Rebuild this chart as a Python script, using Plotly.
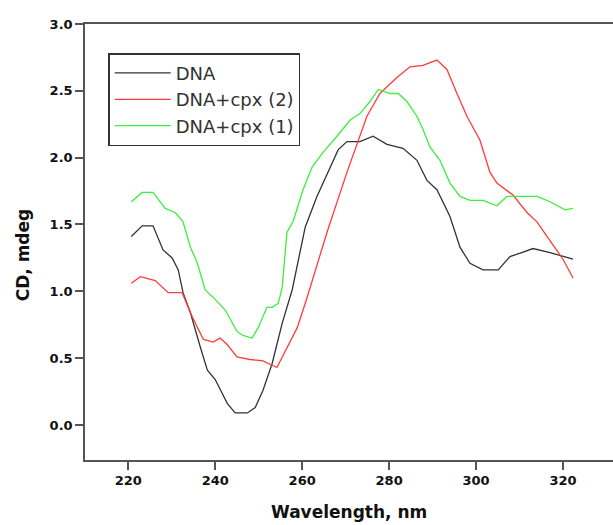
import plotly.graph_objects as go

# Wavelength (nm) and CD (mdeg)
dna_x = [220.7, 223.2, 225.7, 228.0, 230.1, 231.5, 232.6, 234.3, 236.6, 238.2, 240.0, 242.8,
         244.6, 247.4, 249.2, 251.0, 253.1, 255.4, 257.7, 260.7, 263.4, 266.0, 268.3, 270.3,
         273.3, 276.3, 279.5, 283.2, 286.4, 288.7, 291.0, 294.0, 296.3, 298.6, 301.6, 305.1,
         307.8, 310.5, 313.1, 317.0, 319.3, 322.3]
dna_y = [1.41, 1.49, 1.49, 1.31, 1.25, 1.16, 0.99, 0.84, 0.58, 0.41, 0.34, 0.16,
         0.09, 0.09, 0.13, 0.26, 0.46, 0.76, 1.01, 1.48, 1.71, 1.89, 2.06, 2.12,
         2.12, 2.16, 2.10, 2.07, 1.98, 1.83, 1.76, 1.56, 1.33, 1.21, 1.16, 1.16,
         1.26, 1.29, 1.32, 1.29, 1.27, 1.24]

cpx2_x = [220.7, 222.8, 226.2, 229.2, 232.4, 234.3, 235.9, 237.3, 239.5, 241.1, 242.8, 245.0,
          248.0, 251.0, 254.2, 256.5, 258.9, 261.1, 265.7, 270.3, 273.3, 274.9, 277.9, 281.8,
          284.8, 287.8, 291.0, 293.3, 295.6, 297.9, 300.9, 303.2, 304.8, 308.5, 311.7, 314.0,
          317.0, 320.0, 322.3]
cpx2_y = [1.06, 1.11, 1.08, 0.99, 0.99, 0.84, 0.73, 0.64, 0.62, 0.65, 0.60, 0.51,
          0.49, 0.48, 0.43, 0.58, 0.73, 0.95, 1.44, 1.89, 2.16, 2.31, 2.48, 2.60,
          2.68, 2.69, 2.73, 2.66, 2.48, 2.31, 2.13, 1.89, 1.81, 1.72, 1.59, 1.52,
          1.38, 1.24, 1.10]

cpx1_x = [220.7, 223.2, 225.7, 228.5, 230.8, 232.6, 234.3, 235.9, 237.7, 240.0, 242.3, 245.0,
          246.4, 248.5, 249.9, 251.9, 253.1, 254.5, 255.4, 256.5, 258.0, 260.2, 262.3, 264.8,
          268.0, 271.0, 273.3, 275.6, 277.5, 280.2, 282.1, 284.1, 286.4, 287.8, 289.4, 291.7,
          294.0, 296.3, 298.6, 301.6, 304.8, 307.1, 309.4, 314.0, 317.0, 320.5, 322.3]
cpx1_y = [1.67, 1.74, 1.74, 1.62, 1.59, 1.52, 1.33, 1.21, 1.01, 0.94, 0.86, 0.70,
          0.67, 0.65, 0.73, 0.88, 0.88, 0.91, 1.03, 1.44, 1.53, 1.76, 1.93, 2.04,
          2.16, 2.28, 2.33, 2.42, 2.51, 2.48, 2.48, 2.42, 2.31, 2.21, 2.08, 1.98,
          1.81, 1.71, 1.68, 1.68, 1.64, 1.71, 1.71, 1.71, 1.67, 1.61, 1.62]

x_ticks = [220, 240, 260, 280, 300, 320]
y_ticks = [0.0, 0.5, 1.0, 1.5, 2.0, 2.5, 3.0]

series = [
    ("DNA", dna_x, dna_y, "#333333"),
    ("DNA+cpx (2)", cpx2_x, cpx2_y, "#ff3b3b"),
    ("DNA+cpx (1)", cpx1_x, cpx1_y, "#3cf03c"),
]

fig = go.Figure()
for i, (name, xs, ys, col) in enumerate(series):
    fig.add_trace(go.Scatter(x=xs, y=ys, mode="lines", name=name,
                             legendgroup=f"g{i}",
                             line=dict(color=col, width=1.3)))

bold = dict(family="DejaVu Sans", color="#111", weight="bold")
tickfont = dict(bold, size=13)
axcol = "#555555"
fig.update_layout(
    width=613, height=525,
    margin=dict(l=85, r=0, t=24, b=65),
    paper_bgcolor="white", plot_bgcolor="white",
    showlegend=True,
    legend=dict(x=0.044, y=0.933, xanchor="left", yanchor="top",
                bordercolor="#333", borderwidth=1.5, bgcolor="white",
                traceorder="grouped", tracegroupgap=0, itemwidth=56,
                font=dict(family="DejaVu Sans", size=18, color="#333")),
    xaxis=dict(range=[210.05, 331.5], tickvals=x_ticks, ticktext=[str(v) for v in x_ticks],
               showgrid=False, zeroline=False, showline=True, linecolor=axcol, linewidth=1.5,
               mirror=True, ticks="outside", ticklen=8, tickwidth=1.5, tickcolor=axcol,
               tickfont=tickfont),
    yaxis=dict(range=[-0.262, 3.0], tickvals=y_ticks, ticktext=[f"{v:.1f}" for v in y_ticks],
               showgrid=False, zeroline=False, showline=True, linecolor=axcol, linewidth=1.5,
               ticks="outside", ticklen=8, tickwidth=1.5, tickcolor=axcol,
               tickfont=tickfont),
    annotations=[
        dict(text="Wavelength, nm", xref="paper", yref="paper", x=0.5, y=-0.1193,
             xanchor="center", yanchor="middle", showarrow=False, font=dict(bold, size=17)),
        dict(text="CD, mdeg", xref="paper", yref="paper", x=-0.117, y=0.470,
             xanchor="center", yanchor="middle", textangle=-90, showarrow=False,
             font=dict(bold, size=17)),
    ],
)

fig.write_html("out.html")
